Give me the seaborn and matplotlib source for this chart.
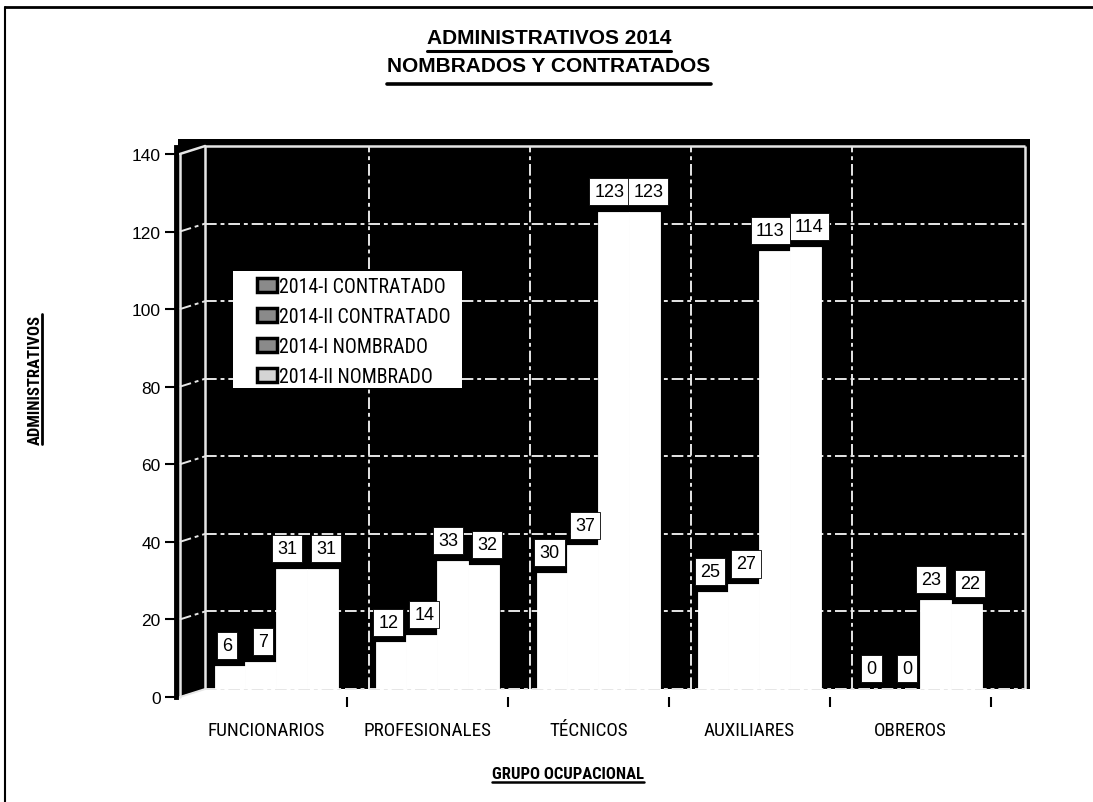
import numpy as np
import pandas as pd
import matplotlib
matplotlib.use("Agg")
import matplotlib.pyplot as plt
import seaborn as sns
from matplotlib import font_manager as fm
from matplotlib.patches import Patch, Polygon, Rectangle
from matplotlib.lines import Line2D

# ---- data -------------------------------------------------------------
categorias = ["FUNCIONARIOS", "PROFESIONALES", "TÉCNICOS", "AUXILIARES", "OBREROS"]
series = ["2014-I CONTRATADO", "2014-II CONTRATADO", "2014-I NOMBRADO", "2014-II NOMBRADO"]
contratado_2014_i = [6, 12, 30, 25, 0]
contratado_2014_ii = [7, 14, 37, 27, 0]
nombrado_2014_i = [31, 33, 123, 113, 23]
nombrado_2014_ii = [31, 32, 123, 114, 22]
y_ticks = [0, 20, 40, 60, 80, 100, 120, 140]

valores = [contratado_2014_i, contratado_2014_ii, nombrado_2014_i, nombrado_2014_ii]
df = pd.DataFrame(
    [(c, s, v[i]) for s, v in zip(series, valores) for i, c in enumerate(categorias)],
    columns=["grupo", "serie", "valor"],
)

# ---- styling ----------------------------------------------------------
sns.set_theme(style="white")
plt.rcParams["font.family"] = ["Liberation Sans", "DejaVu Sans"]
for key in ("text.color", "axes.labelcolor", "xtick.color", "ytick.color"):
    plt.rcParams[key] = "black"

# pick a narrow sans face when one is installed
installed = {f.name for f in fm.fontManager.ttflist}
narrow_name = next((n for n in ["Liberation Sans Narrow", "Roboto Condensed",
                                "Open Sans Condensed", "Noto Sans Condensed",
                                "DejaVu Sans Condensed", "Arial Narrow"]
                    if n in installed), None)
if narrow_name:
    NARROW = [narrow_name, "Liberation Sans", "DejaVu Sans"]
    sz_leg, sz_cat, sz_axis = 14.3, 13.8, 12
else:
    NARROW = ["Liberation Sans", "DejaVu Sans"]
    sz_leg, sz_cat, sz_axis = 11.5, 11.5, 10

GRID = "#e6e6e6"
DASH = (0, (6, 2, 2, 2))

W, H = 1093, 803
fig = plt.figure(figsize=(W / 100, H / 100), dpi=100)
fig.patch.set_facecolor("white")

def fx(x):
    return x / W

def fy(y):
    return 1 - y / H

# back wall of the chart (bars live here)
ax = fig.add_axes([fx(178), fy(690), 852 / W, 550 / H])
ax.set_facecolor("black")

sns.barplot(
    data=df, x="grupo", y="valor", hue="serie",
    order=categorias, hue_order=series,
    palette=["white"] * 4, saturation=1, width=0.764, gap=0,
    edgecolor="white", linewidth=0.6, errorbar=None, legend=False, ax=ax,
)

YMAX = 141.8
ax.set_xlim(-0.6087, 4.683)
ax.set_ylim(0, YMAX)
ax.set(xlabel="", ylabel="")
ax.set_xticks([])
ax.set_yticks([])
for s in ax.spines.values():
    s.set_visible(False)

# gridlines on the back wall and side wall
back_l, back_r = -0.44, 4.652
front_x = -0.597
drop = 2.06
for v in y_ticks[1:-1]:
    ax.hlines(v, back_l, back_r, colors=GRID, linestyles=DASH, lw=1.4, zorder=0.8)
    ax.plot([front_x, back_l], [v - drop, v], color=GRID, ls=DASH, lw=1.4, zorder=0.8)
ax.hlines(140, back_l, back_r, colors=GRID, lw=1.8, zorder=0.8)
ax.plot([front_x, back_l], [140 - drop, 140], color=GRID, lw=1.8, zorder=0.8)
ax.hlines(0, back_l, back_r, colors=GRID, linestyles=DASH, lw=1.4, zorder=0.8, clip_on=False)
for xv in [0.575, 1.575, 2.575, 3.575]:
    ax.vlines(xv, 0, 140, colors=GRID, linestyles=DASH, lw=1.4, zorder=0.8)
ax.vlines([back_l, back_r], 0, 140, colors=GRID, lw=1.8, zorder=0.8)
ax.add_patch(Polygon([(-0.6087, 0), (back_l, 0), (-0.6087, -drop)],
                     closed=True, fc="black", ec="none", clip_on=False, zorder=0.7))
ax.plot([front_x, front_x], [-drop, 140 - drop], color=GRID, lw=1.8, zorder=0.8, clip_on=False)
ax.plot([front_x, back_l], [-drop, 0], color=GRID, lw=1.4, zorder=0.8, clip_on=False)

# value labels, nudged sideways so neighbouring boxes stay readable
nudge = [-2.5, 2.5, -4, 4]
for cont, dx in zip(ax.containers, nudge):
    for rect, val in zip(cont, cont.datavalues):
        ax.annotate(
            f"{val:.0f}", (rect.get_x() + rect.get_width() / 2, val),
            xytext=(dx * 0.72, 8.5), textcoords="offset points",
            ha="center", va="bottom", fontsize=13, color="black",
            bbox=dict(boxstyle="square,pad=0.28", fc="white", ec="black", lw=0.6),
            zorder=5,
        )

# front axis (ticks and category names)
axf = fig.add_axes([fx(176), fy(698), 854 / W, 550 / H], facecolor="none", zorder=3)
axf.set_xlim(-0.621, 4.683)
axf.set_ylim(0, YMAX)
axf.set_yticks(y_ticks)
axf.set_yticklabels([str(v) for v in y_ticks])
axf.tick_params(axis="y", length=8, width=1.5, color="black", labelsize=12.5,
                pad=3, direction="out", left=True)
axf.set_xticks([k - 0.06 for k in range(len(categorias))])
axf.set_xticklabels(categorias, fontsize=sz_cat, family=NARROW)
axf.tick_params(axis="x", which="major", length=0, pad=17)
axf.set_xticks([k + 0.44 for k in range(len(categorias))], minor=True)
axf.tick_params(axis="x", which="minor", length=7, width=1.5, color="black",
                direction="out", bottom=True)
for name, s in axf.spines.items():
    s.set_visible(name == "left")
axf.spines["left"].set_linewidth(3.5)
axf.spines["left"].set_color("black")

# legend on a white panel
fig.add_artist(Rectangle((fx(233), fy(389)), 229 / W, 117 / H,
                         transform=fig.transFigure, fc="white", ec="none", zorder=4))
leg_colors = ["#8a8a8a", "#8a8a8a", "#8a8a8a", "#d4d4d4"]
handles = [Patch(facecolor=c, edgecolor="black", linewidth=2.5) for c in leg_colors]
leg = fig.legend(
    handles, series, loc="upper left", bbox_to_anchor=(fx(257), fy(278)),
    frameon=False, prop=dict(family=NARROW, size=sz_leg),
    handlelength=1.0, handleheight=0.7, handletextpad=0.12,
    labelspacing=0.55, borderpad=0, borderaxespad=0,
)
leg.set_zorder(5)

# titles and axis names
t1 = fig.text(fx(549), fy(39), "ADMINISTRATIVOS 2014", ha="center", va="center",
              fontsize=15, fontweight="bold")
t2 = fig.text(fx(549), fy(67), "NOMBRADOS Y CONTRATADOS", ha="center", va="center",
              fontsize=15, fontweight="bold")
ty = fig.text(fx(35), fy(380), "ADMINISTRATIVOS", ha="center", va="center",
              rotation=90, fontsize=sz_axis, fontweight="bold", family=NARROW)
tx = fig.text(fx(568), fy(775), "GRUPO OCUPACIONAL", ha="center", va="center",
              fontsize=sz_axis, fontweight="bold", family=NARROW)

fig.canvas.draw()
r = fig.canvas.get_renderer()

def underline_h(t, ypix, lw=2.2):
    bb = t.get_window_extent(r)
    fig.add_artist(Line2D([bb.x0 / W, bb.x1 / W], [fy(ypix)] * 2,
                          transform=fig.transFigure, color="black", lw=lw))

def underline_v(t, xpix, lw=2.0):
    bb = t.get_window_extent(r)
    fig.add_artist(Line2D([fx(xpix)] * 2, [bb.y0 / H, bb.y1 / H],
                          transform=fig.transFigure, color="black", lw=lw))

underline_h(t1, 52)
underline_h(t2, 85, lw=2.6)
underline_h(tx, 783, lw=1.8)
underline_v(ty, 42)

# outer border
fig.add_artist(Line2D([fx(5), 1], [fy(8)] * 2, transform=fig.transFigure, color="black", lw=2))
fig.add_artist(Line2D([fx(5)] * 2, [fy(8), 0], transform=fig.transFigure, color="black", lw=1.5))

fig.savefig("out.png", dpi=100)
